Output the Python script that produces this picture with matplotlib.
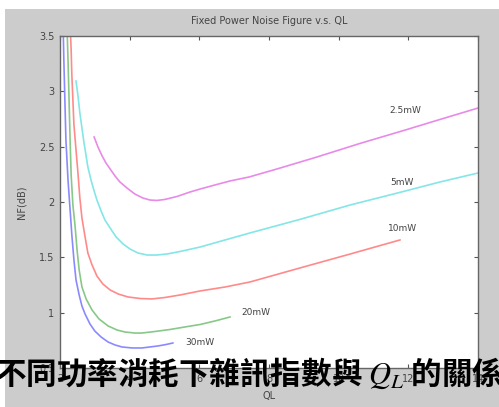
import matplotlib
matplotlib.use('Agg')
import matplotlib.pyplot as plt
from matplotlib.patches import Rectangle

plt.rcParams['mathtext.fontset'] = 'stix'

# noise figure curves, one per fixed power level
powers = ['2.5mW', '5mW', '10mW', '20mW', '30mW']
colors = ['#e88ae8', '#84e6e6', '#ff8a8a', '#88c888', '#8a8aff']

ql_25 = [2.98, 3.09, 3.21, 3.32, 3.44, 3.58, 3.72, 3.92, 4.15, 4.38, 4.58, 4.78, 5.01,
         5.36, 5.73, 6.02, 6.45, 6.88, 7.43, 8.32, 9.38, 10.61, 11.96, 12.91, 14.0]
nf_25 = [2.587, 2.497, 2.416, 2.352, 2.298, 2.235, 2.181, 2.127, 2.072, 2.036, 2.018,
         2.014, 2.023, 2.050, 2.090, 2.117, 2.154, 2.190, 2.226, 2.307, 2.407, 2.529,
         2.655, 2.746, 2.849]

ql_5 = [2.46, 2.52, 2.57, 2.63, 2.69, 2.75, 2.80, 2.89, 2.98, 3.06, 3.18, 3.29, 3.44,
        3.61, 3.81, 4.01, 4.24, 4.50, 4.78, 5.07, 5.45, 6.02, 6.74, 7.45, 8.89, 10.33,
        11.76, 12.91, 14.0]
nf_5 = [3.093, 2.949, 2.804, 2.669, 2.533, 2.416, 2.316, 2.199, 2.099, 2.018, 1.919,
        1.837, 1.765, 1.684, 1.621, 1.575, 1.539, 1.521, 1.521, 1.530, 1.553, 1.593,
        1.657, 1.720, 1.843, 1.973, 2.087, 2.181, 2.262]

ql_10 = [2.29, 2.32, 2.34, 2.37, 2.40, 2.46, 2.52, 2.57, 2.63, 2.72, 2.80, 2.92, 3.06,
         3.23, 3.44, 3.67, 3.95, 4.30, 4.64, 5.01, 5.45, 6.02, 6.74, 7.45, 8.89, 10.33,
         11.76]
nf_10 = [3.599, 3.373, 3.148, 2.922, 2.696, 2.470, 2.244, 2.036, 1.855, 1.684, 1.539,
         1.431, 1.331, 1.259, 1.205, 1.169, 1.142, 1.128, 1.124, 1.137, 1.160, 1.196,
         1.232, 1.277, 1.404, 1.530, 1.657]

ql_20 = [2.20, 2.23, 2.26, 2.29, 2.32, 2.37, 2.43, 2.49, 2.55, 2.63, 2.75, 2.92, 3.12,
         3.38, 3.64, 3.87, 4.15, 4.35, 4.73, 5.16, 5.59, 6.02, 6.45, 6.88]
nf_20 = [3.599, 3.283, 2.922, 2.560, 2.244, 1.973, 1.792, 1.566, 1.386, 1.232, 1.124,
         1.024, 0.943, 0.880, 0.843, 0.825, 0.816, 0.816, 0.830, 0.848, 0.871, 0.893,
         0.925, 0.961]

ql_30 = [2.09, 2.11, 2.14, 2.17, 2.23, 2.29, 2.34, 2.40, 2.46, 2.55, 2.63, 2.72, 2.86,
         3.00, 3.18, 3.38, 3.58, 3.78, 4.07, 4.35, 4.58, 4.81, 5.04, 5.24]
nf_30 = [3.599, 3.283, 2.922, 2.560, 2.199, 1.928, 1.702, 1.476, 1.295, 1.160, 1.060,
         0.988, 0.898, 0.834, 0.780, 0.735, 0.708, 0.690, 0.681, 0.681, 0.690, 0.699,
         0.712, 0.726]

ql_data = [ql_25, ql_5, ql_10, ql_20, ql_30]
nf_data = [nf_25, nf_5, nf_10, nf_20, nf_30]

# where each power label sits
label_ql = [11.90, 11.82, 11.82, 7.63, 6.02]
label_nf = [2.83, 2.18, 1.765, 1.0, 0.73]

xticks = [2, 4, 6, 8, 10, 12, 14]
yticks = [0.5, 1, 1.5, 2, 2.5, 3, 3.5]

fig = plt.figure(figsize=(4.99, 4.07), dpi=100, facecolor='white')
fig.patches.append(Rectangle((5 / 499, 0), 1, 1 - 9 / 407, transform=fig.transFigure,
                             facecolor='#cccccc', edgecolor='none', zorder=-10))

ax = fig.add_axes([60 / 499, 39 / 407, 418 / 499, 332 / 407])
ax.set_facecolor('white')

for ql, nf, c in zip(ql_data, nf_data, colors):
    ax.plot(ql, nf, color=c, lw=1.2)

for name, x, y in zip(powers, label_ql, label_nf):
    ax.text(x, y, name, fontsize=6.5, color='#444444', ha='center', va='center')

ax.set_xlim(2, 14)
ax.set_ylim(0.5, 3.5)
ax.set_xticks(xticks)
ax.set_yticks(yticks)
ax.set_yticklabels(['0.5', '1', '1.5', '2', '2.5', '3', '3.5'])
ax.tick_params(direction='in', length=3, width=0.8, colors='#555555',
               labelcolor='#444444', labelsize=7, top=True, right=True, pad=4)
for s in ax.spines.values():
    s.set_color('#666666')
    s.set_linewidth(1.0)

ax.set_title('Fixed Power Noise Figure v.s. QL', fontsize=7, color='#444444', pad=9)
ax.set_ylabel('NF(dB)', fontsize=7, color='#444444', labelpad=9)
ax.set_xlabel('QL', fontsize=7, color='#444444', labelpad=5)

fig.text(-5 / 499, 1 - 373 / 407, '不同功率消耗下雜訊指數與 $Q_L$ 的關係',
         family=['Noto Sans CJK TC', 'DejaVu Sans'], fontweight='bold',
         fontsize=22, color='black', ha='left', va='center')

fig.savefig('out.png', dpi=100, facecolor=fig.get_facecolor())
